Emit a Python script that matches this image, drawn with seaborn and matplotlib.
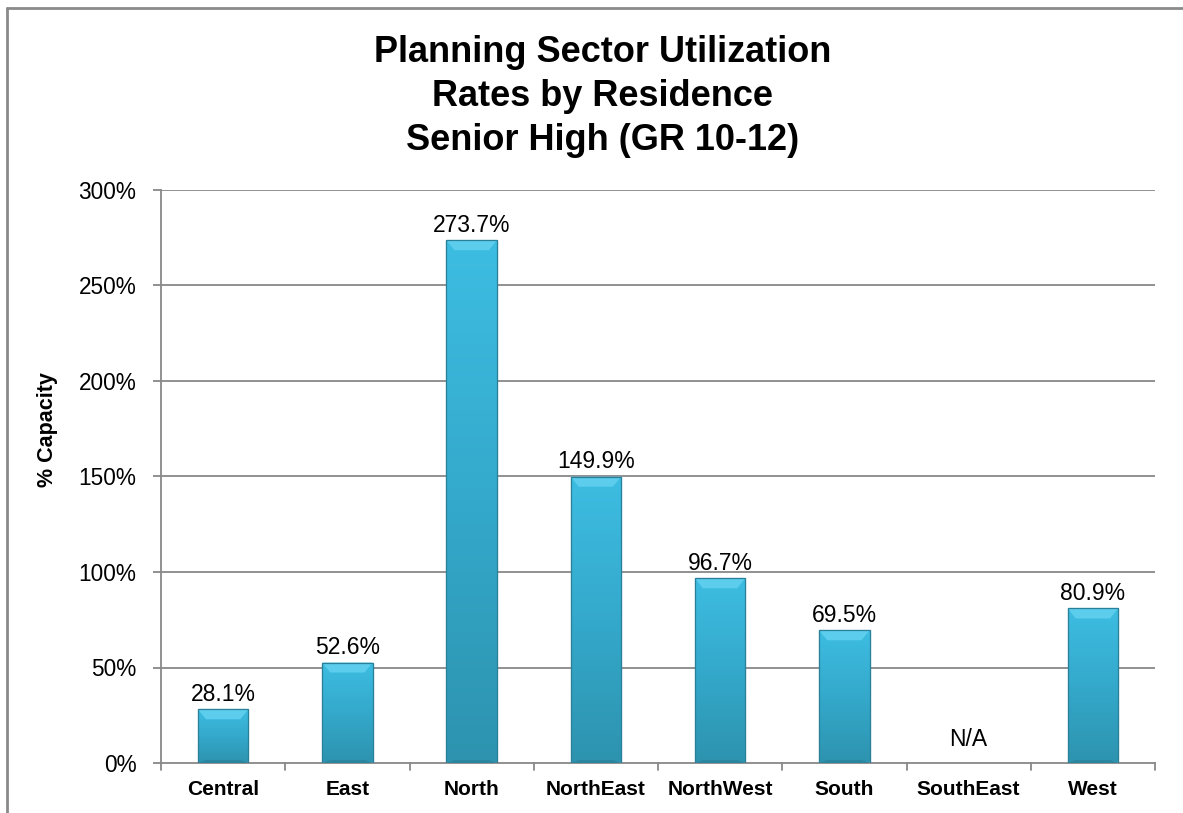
import numpy as np
import pandas as pd
import matplotlib
matplotlib.use("Agg")
import matplotlib.pyplot as plt
import seaborn as sns
from matplotlib.lines import Line2D
from matplotlib.colors import LinearSegmentedColormap

sectors = ["Central", "East", "North", "NorthEast", "NorthWest", "South", "SouthEast", "West"]
utilization = [28.1, 52.6, 273.7, 149.9, 96.7, 69.5, 0.0, 80.9]
value_labels = ["28.1%", "52.6%", "273.7%", "149.9%", "96.7%", "69.5%", "N/A", "80.9%"]
y_ticks = [0, 50, 100, 150, 200, 250, 300]
y_tick_labels = ["0%", "50%", "100%", "150%", "200%", "250%", "300%"]
title_text = "Planning Sector Utilization\nRates by Residence\nSenior High (GR 10-12)"

df = pd.DataFrame({"sector": sectors, "pct": utilization})

sns.set_theme(style="white")
plt.rcParams["font.family"] = ["Liberation Sans", "DejaVu Sans"]
plt.rcParams["text.color"] = "black"

W, H = 1183, 813
fig = plt.figure(figsize=(W / 100, H / 100), dpi=100)
ax = fig.add_axes([161 / W, 1 - 763 / H, (1155 - 161) / W, (763 - 190) / H])

grid_c = "#888888"
for yv in y_ticks[1:]:
    ax.axhline(yv, color=grid_c, lw=1.3, zorder=0)

sns.barplot(data=df, x="sector", y="pct", color="#36acce", width=0.405,
            edgecolor="#2a8aa4", linewidth=0.8, saturation=1, ax=ax, zorder=2)

# vertical shading on each bar, lighter on top and deeper near the base
shade = LinearSegmentedColormap.from_list("shade", ["#2d93af", "#34a9cb", "#3dbde2"])
grad = np.linspace(0, 1, 256).reshape(-1, 1)
px_per_unit = (763 - 190) / 300.0
for patch in ax.patches:
    x0, w, h = patch.get_x(), patch.get_width(), patch.get_height()
    if h <= 0:
        patch.set_visible(False)
        continue
    im = ax.imshow(grad, cmap=shade, origin="lower", aspect="auto",
                   extent=[x0, x0 + w, 0, h], zorder=2.5)
    im.set_clip_path(patch)
    # light bevel along the top edge, darker one at the base
    bev = min(h * 0.4, 10 / px_per_unit)
    ins = w * 0.16
    ax.fill([x0, x0 + w, x0 + w - ins, x0 + ins],
            [h, h, h - bev, h - bev], color="#5ccdec", lw=0, zorder=2.7)
    ax.fill([x0, x0 + ins, x0 + w - ins, x0 + w],
            [0, 3 / px_per_unit, 3 / px_per_unit, 0], color="#2a86a0", lw=0, zorder=2.7)
    ax.add_patch(plt.Rectangle((x0, 0), w, h, fill=False, ec="#2a8098",
                               lw=0.9, zorder=2.8))

ax.set_xlim(-0.5, len(sectors) - 0.5)
ax.set_ylim(0, 300)
ax.set_yticks(y_ticks)
ax.set_yticklabels(y_tick_labels, fontsize=16.3, color="black")
ax.set_xticks(range(len(sectors)))
ax.set_xticklabels(sectors, fontsize=15, fontweight="bold", color="black")
ax.tick_params(axis="x", length=0, pad=12)
ax.tick_params(axis="y", length=5.8, color=grid_c, width=1.3, pad=12, left=True)

# category boundary ticks on the x axis
for b in np.arange(-0.5, len(sectors) + 0.5, 1.0):
    ax.plot([b, b], [0, -7 / px_per_unit], color=grid_c, lw=1.3, clip_on=False, zorder=3)

for s in ["top", "right"]:
    ax.spines[s].set_visible(False)
for s in ["left", "bottom"]:
    ax.spines[s].set_color(grid_c)
    ax.spines[s].set_linewidth(1.3)

ax.set_xlabel("")
ax.set_ylabel("% Capacity", fontsize=15.5, fontweight="bold", color="black")
ax.yaxis.set_label_coords((58 - 161) / 994, (763 - 430) / 573)

for i, (v, lab) in enumerate(zip(utilization, value_labels)):
    off = 6 if v > 0 else 12.5
    ax.annotate(lab, (i, v), xytext=(0, off), textcoords="offset points",
                ha="center", va="baseline", fontsize=16.5, color="black")

fig.text(602.5 / W, 1 - 35 / H, title_text, ha="center", va="top",
         fontsize=26, fontweight="bold", linespacing=1.33, color="black")

# outer frame lines along the top and left
fig.add_artist(Line2D([7 / W, 1], [1 - 8 / H, 1 - 8 / H], color="#8a8a8a", lw=2,
                      transform=fig.transFigure))
fig.add_artist(Line2D([7 / W, 7 / W], [0, 1 - 8 / H], color="#8a8a8a", lw=2,
                      transform=fig.transFigure))

fig.savefig("out.png", dpi=100, facecolor="white")
